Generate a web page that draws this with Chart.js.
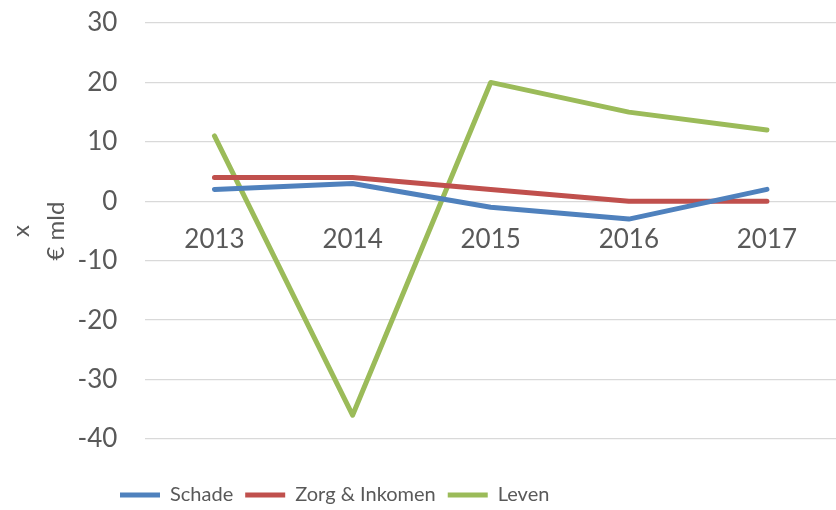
<!DOCTYPE html>
<html>
<head>
<meta charset="utf-8">
<script src="https://cdn.jsdelivr.net/npm/chart.js@4.4.0/dist/chart.umd.min.js"></script>
<style>
html, body { margin: 0; padding: 0; background: #fff; }
#wrap { width: 836px; height: 510px; }
</style>
</head>
<body>
<div id="wrap"><canvas id="lineChart"></canvas></div>
<script>
var years = ["2013", "2014", "2015", "2016", "2017"];
var schadeValues = [2, 3, -1, -3, 2];
var zorgValues = [4, 4, 2, 0, 0];
var levenValues = [11, -36, 20, 15, 12];
var seriesNames = ["Schade", "Zorg & Inkomen", "Leven"];
var lineColors = ["#4F81BD", "#C0504D", "#9BBB59"];
var yTitle = ["x", "€ mld"];

Chart.defaults.font.family = "Lato, 'Open Sans', sans-serif";
Chart.defaults.font.size = 26;
Chart.defaults.color = "#595959";

// legend sits left of centre and a bit lower in the original, move it there
var legendPlace = {
  id: "legendPlace",
  afterLayout: function(chart) {
    var lg = chart.legend;
    lg.left = 108;
    lg.top += 34;
    lg.bottom += 34;
  }
};

function lineSet(label, data, color) {
  return {
    label: label,
    data: data,
    borderColor: color,
    backgroundColor: color,
    borderWidth: 5,
    pointRadius: 0,
    borderCapStyle: "round",
    borderJoinStyle: "round",
    tension: 0
  };
}

new Chart("lineChart", {
  type: "line",
  data: {
    labels: years,
    datasets: [
      lineSet(seriesNames[0], schadeValues, lineColors[0]),
      lineSet(seriesNames[1], zorgValues, lineColors[1]),
      lineSet(seriesNames[2], levenValues, lineColors[2])
    ]
  },
  options: {
    responsive: true,
    maintainAspectRatio: false,
    animation: false,
    layout: { padding: { top: 23, right: -6, bottom: 29, left: 0 } },
    scales: {
      x: {
        position: { y: 0 },
        offset: true,
        grid: { display: false, drawTicks: false },
        border: { display: false },
        ticks: { padding: 23 }
      },
      y: {
        min: -40,
        max: 30,
        ticks: { stepSize: 10, padding: 4 },
        grid: { color: "#d9d9d9", lineWidth: 1.3, drawTicks: true, tickLength: 24, tickColor: "rgba(0,0,0,0)" },
        border: { display: false },
        title: {
          display: true,
          text: yTitle,
          padding: { top: 3.5, bottom: 0 },
          font: { size: 24, lineHeight: 1.46 }
        }
      }
    },
    plugins: {
      legend: {
        position: "bottom",
        align: "start",
        labels: {
          usePointStyle: true,
          pointStyle: "line",
          pointStyleWidth: 40,
          padding: 12,
          color: "#595959",
          font: { size: 20 }
        }
      },
      tooltip: { enabled: false }
    }
  },
  plugins: [legendPlace]
});
</script>
</body>
</html>
